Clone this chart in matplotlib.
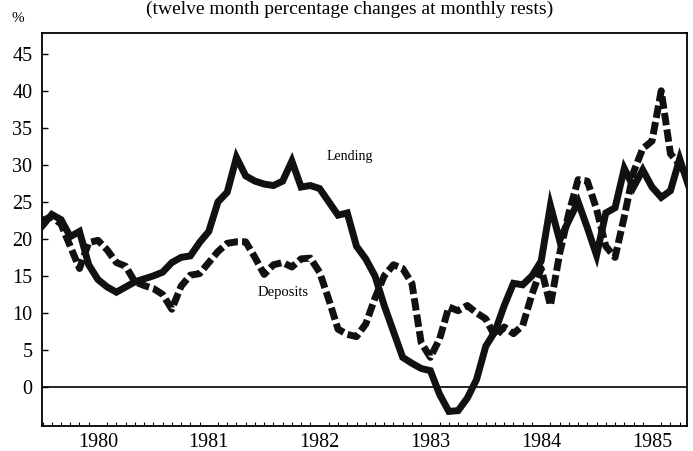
import matplotlib
matplotlib.use("Agg")
import matplotlib.pyplot as plt
import numpy as np

# Monthly observations, July 1979 onwards (twelve month % changes)
start_year = 1979.5
lending = [21.8, 23.3, 22.6, 20.3, 21.0, 16.5, 14.5, 13.5, 12.8, 13.5,
           14.2, 14.6, 15.0, 15.5, 16.8, 17.5, 17.7, 19.5, 21.0, 25.0,
           26.3, 31.0, 28.5, 27.8, 27.4, 27.2, 27.8, 30.5, 27.0, 27.2,
           26.8, 25.0, 23.2, 23.5, 19.0, 17.3, 15.0, 11.0, 7.5, 4.0,
           3.2, 2.5, 2.2, -1.0, -3.3, -3.2, -1.5, 1.0, 5.5, 7.5,
           11.0, 14.0, 13.8, 15.0, 17.0, 24.5, 19.8, 22.5, 25.0, 21.5,
           17.8, 23.5, 24.2, 29.5, 27.0, 29.3, 27.0, 25.6, 26.5, 30.8,
           27.0]
deposits = [22.5, 23.0, 22.0, 19.0, 16.0, 19.5, 19.8, 18.5, 16.8, 16.3,
            14.2, 13.7, 13.3, 12.5, 10.5, 13.6, 15.1, 15.3, 16.8, 18.3,
            19.4, 19.6, 19.6, 17.5, 15.2, 16.5, 16.8, 16.2, 17.3, 17.4,
            15.5, 11.8, 7.8, 7.1, 6.8, 8.5, 12.0, 15.0, 16.5, 16.0,
            14.0, 6.0, 4.0, 6.5, 10.8, 10.3, 11.0, 10.0, 9.2, 6.8,
            8.1, 7.2, 8.3, 12.5, 16.0, 11.0, 18.0, 23.5, 28.0, 27.8,
            24.0, 19.0, 17.5, 23.0, 29.0, 32.2, 33.2, 40.0, 31.5, 30.0,
            28.0]
years = [1980, 1981, 1982, 1983, 1984, 1985]
y_ticks = [0, 5, 10, 15, 20, 25, 30, 35, 40, 45]

t = start_year + np.arange(len(lending)) / 12

plt.rcParams['font.family'] = ['Liberation Serif', 'DejaVu Serif']

fig = plt.figure(figsize=(6.93, 4.51), dpi=100)
ax = fig.add_axes([42 / 693, 1 - 426 / 451, 645 / 693, 393 / 451])

ax.axhline(0, color='black', lw=1.2, zorder=1)
ax.plot(t, lending, color='#111111', lw=5, solid_joinstyle='miter', zorder=3)
ax.plot(t, deposits, color='#111111', lw=5, dashes=(1.8, 0.6), zorder=2)

ax.set_xlim(1979.495, 1985.316)
ax.set_ylim(-5.27, 47.8)
ax.set_xticks(years)
ax.set_xticklabels([str(y) for y in years])
ax.set_xticks(start_year + np.arange(0, 70) / 12, minor=True)
ax.set_yticks(y_ticks)
ax.tick_params(axis='both', which='major', direction='in', length=4, width=1,
               labelsize=14.5, pad=7)
ax.tick_params(axis='x', which='major', length=0, pad=5)
ax.tick_params(axis='x', which='minor', direction='in', length=3, width=0.8)
for s in ax.spines.values():
    s.set_linewidth(1.3)

ax.text(1982.27, 31.1, "Lending", fontsize=10, ha='center', va='center')
ax.text(1981.67, 12.7, "Deposits", fontsize=10.5, ha='center', va='center')

fig.text(18 / 693, 1 - 18 / 451, "%", fontsize=11, ha='center', va='center')
fig.text(0.505, 1 - 14 / 451, "(twelve month percentage changes at monthly rests)",
         fontsize=14, ha='center', va='baseline')

fig.savefig("out.png", dpi=100)
